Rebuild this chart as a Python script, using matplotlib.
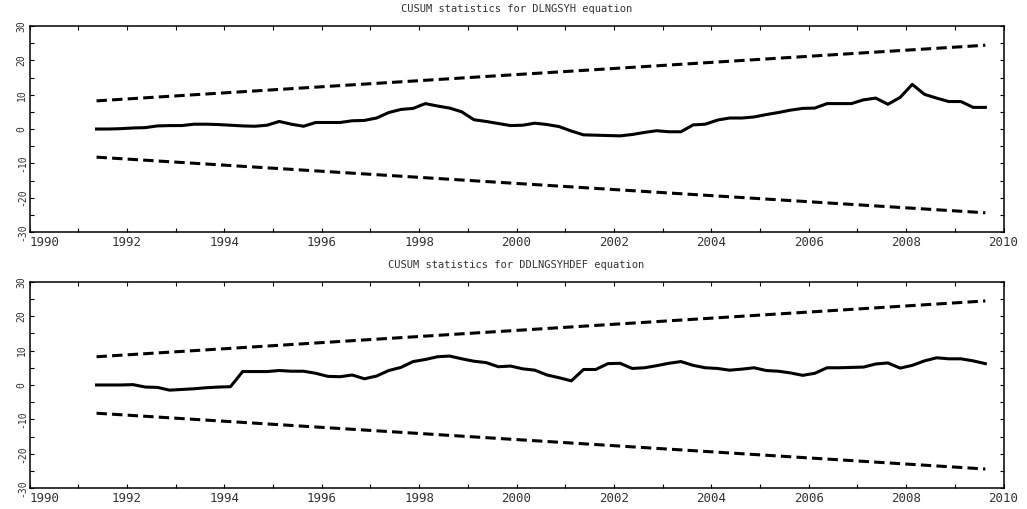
import matplotlib
matplotlib.use("Agg")
import matplotlib.pyplot as plt

plt.rcParams['axes.unicode_minus'] = False
plt.rcParams['font.family'] = 'DejaVu Sans Mono'

# quarterly observations, 1991Q2 .. 2009Q3 (plotted at mid-quarter)
start_year = 1991.375
n_obs = 74
years = [start_year + 0.25 * i for i in range(n_obs)]

titles = ["CUSUM statistics for DLNGSYH equation",
          "CUSUM statistics for DDLNGSYHDEF equation"]

cusum_dlngsyh = [
    0.0, 0.0, 0.1, 0.3, 0.4, 0.9, 1.0, 1.0, 1.4, 1.4,
    1.3, 1.1, 0.9, 0.8, 1.1, 2.2, 1.4, 0.8, 1.9, 1.9,
    1.9, 2.4, 2.5, 3.2, 4.8, 5.7, 6.0, 7.4, 6.7, 6.1,
    5.0, 2.7, 2.2, 1.6, 1.0, 1.1, 1.7, 1.3, 0.7, -0.6,
    -1.7, -1.8, -1.9, -2.0, -1.6, -1.0, -0.5, -0.8, -0.8, 1.2,
    1.4, 2.6, 3.2, 3.2, 3.5, 4.2, 4.8, 5.5, 6.0, 6.1,
    7.4, 7.4, 7.4, 8.5, 9.0, 7.2, 9.2, 13.0, 10.1, 9.0,
    8.0, 8.0, 6.3, 6.3,
]

cusum_ddlngsyhdef = [
    0.0, 0.0, 0.0, 0.1, -0.6, -0.7, -1.5, -1.3, -1.1, -0.8,
    -0.6, -0.5, 3.9, 3.9, 3.9, 4.2, 4.0, 4.0, 3.4, 2.5,
    2.4, 2.9, 1.8, 2.6, 4.2, 5.1, 6.8, 7.4, 8.2, 8.4,
    7.6, 6.9, 6.5, 5.3, 5.5, 4.7, 4.3, 2.9, 2.1, 1.2,
    4.5, 4.5, 6.2, 6.3, 4.8, 5.0, 5.6, 6.3, 6.8, 5.7,
    5.0, 4.8, 4.3, 4.6, 5.0, 4.2, 4.0, 3.5, 2.8, 3.4,
    5.0, 5.0, 5.1, 5.2, 6.1, 6.4, 4.9, 5.7, 7.0, 7.9,
    7.6, 7.6, 7.0, 6.2,
]

# 5% bounds are straight lines: value at first and last observation
bound_x = [years[0], years[-1]]
upper_bound = [8.2, 24.4]
lower_bound = [-8.2, -24.4]

x_ticks = list(range(1990, 2011, 2))
y_ticks = [-30, -20, -10, 0, 10, 20, 30]

fig = plt.figure(figsize=(10.27, 5.09), dpi=100)
positions = [[0.0288, 0.5442, 0.9484, 0.4047],
             [0.0288, 0.0407, 0.9484, 0.4059]]
title_y = [0.982, 0.479]
text_col = '#333333'

for pos, ty, title, series in zip(positions, title_y, titles,
                                  [cusum_dlngsyh, cusum_ddlngsyhdef]):
    ax = fig.add_axes(pos)
    ax.plot(years, series, color='black', lw=2.2, solid_joinstyle='round')
    for b in (upper_bound, lower_bound):
        ax.plot(bound_x, b, color='black', lw=2.2,
                dashes=(3.4, 1.7), dash_capstyle='butt')
    ax.set_xlim(1990, 2010)
    ax.set_ylim(-30, 30)
    ax.set_xticks(x_ticks)
    ax.set_xticks(range(1990, 2011), minor=True)
    ax.set_yticks(y_ticks)
    ax.set_yticks(range(-30, 31, 5), minor=True)
    ax.set_xticklabels([str(t) for t in x_ticks], fontsize=9, color=text_col)
    ax.set_yticklabels([str(t) for t in y_ticks], fontsize=7, color=text_col,
                       rotation=90, va='center')
    ax.xaxis.get_ticklabels()[0].set_horizontalalignment('left')
    ax.tick_params(which='both', direction='in', top=True, right=True,
                   length=3, width=0.8, color='black')
    ax.tick_params(axis='x', which='major', pad=3)
    ax.tick_params(axis='y', which='major', pad=2)
    for s in ax.spines.values():
        s.set_linewidth(1.1)
        s.set_color('black')
    fig.text(pos[0] + pos[2] / 2, ty, title, ha='center', va='center',
             fontsize=7.5, color=text_col)

fig.savefig("out.png", dpi=100)
